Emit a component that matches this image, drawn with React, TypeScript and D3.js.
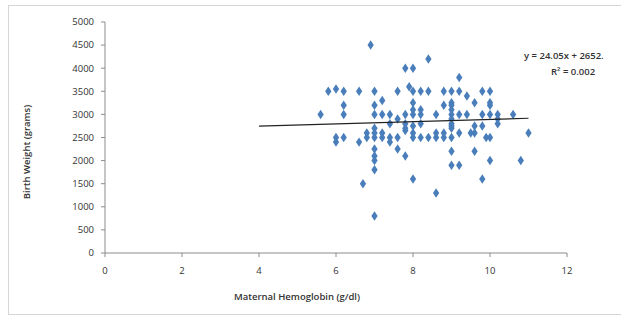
import * as d3 from "d3"
import React from "react"

// maternal hemoglobin (g/dl) and birth weight (grams)
const hb = [
  6.9, 8.4, 7.8, 8.0, 9.2, 7.9, 6.0,
  5.8, 6.2, 6.6, 7.0, 7.6, 8.0, 8.2, 8.4, 8.8, 9.0, 9.2, 9.8, 10.0,
  9.4, 7.2,
  8.0, 9.0, 9.6, 10.0,
  6.2, 7.0, 8.8, 9.0, 10.0,
  8.0, 8.2, 9.0,
  5.6, 6.2, 7.0, 7.2, 7.4, 7.8, 8.0, 8.2, 8.6, 9.0, 9.2, 9.4, 9.8, 10.0, 10.2, 10.6,
  7.6, 9.0, 10.2,
  7.4, 7.8, 8.2, 9.0, 10.2,
  8.0, 9.0, 9.6, 9.8,
  7.0, 7.8, 9.0,
  7.8,
  6.8, 7.0, 7.2, 8.0, 8.6, 8.8, 9.2, 9.5, 9.6, 11.0,
  6.0, 6.2, 6.8, 7.0, 7.2, 7.4, 7.6, 8.0, 8.2, 8.4, 8.6, 8.8, 9.0, 9.9, 10.0,
  6.0, 6.6, 7.4,
  7.0, 7.6,
  9.0, 9.6,
  7.0, 7.8,
  7.0, 10.0, 10.8,
  9.0, 9.2,
  7.0,
  8.0, 9.8,
  6.7,
  8.6,
  7.0
]
const bw = [
  4500, 4200, 4000, 4000, 3800, 3600, 3550,
  3500, 3500, 3500, 3500, 3500, 3500, 3500, 3500, 3500, 3500, 3500, 3500, 3500,
  3400, 3300,
  3250, 3250, 3250, 3250,
  3200, 3200, 3200, 3200, 3200,
  3100, 3100, 3100,
  3000, 3000, 3000, 3000, 3000, 3000, 3000, 3000, 3000, 3000, 3000, 3000, 3000, 3000, 3000, 3000,
  2900, 2900, 2900,
  2800, 2800, 2800, 2800, 2800,
  2750, 2750, 2750, 2750,
  2700, 2700, 2700,
  2650,
  2600, 2600, 2600, 2600, 2600, 2600, 2600, 2600, 2600, 2600,
  2500, 2500, 2500, 2500, 2500, 2500, 2500, 2500, 2500, 2500, 2500, 2500, 2500, 2500, 2500,
  2400, 2400, 2400,
  2250, 2250,
  2200, 2200,
  2100, 2100,
  2000, 2000, 2000,
  1900, 1900,
  1800,
  1600, 1600,
  1500,
  1300,
  800
]

const xTicks = [0, 2, 4, 6, 8, 10, 12]
const yTicks = [0, 500, 1000, 1500, 2000, 2500, 3000, 3500, 4000, 4500, 5000]

// linear trendline shown on the chart
const slope = 24.05
const intercept = 2652
const trendRange = [4, 11]
const eqText = "y = 24.05x + 2652."
const r2Text = "R² = 0.002"

const W = 621, H = 320
const font = "'Open Sans', 'Liberation Sans', sans-serif"

export default function App() {
  const x = d3.scaleLinear().domain([0, 12]).range([105, 567])
  const y = d3.scaleLinear().domain([0, 5000]).range([253, 22])
  const diamond = d3.symbol().type(d3.symbolDiamond).size(26)()
  const line = d3.line<number>().x(d => x(d)).y(d => y(slope * d + intercept))

  return (
    <svg width={W} height={H} style={{ position: "absolute", left: 0, top: 0, background: "#fff" }}>
      <rect x={8.5} y={5.5} width={W - 8} height={H - 11} fill="none" stroke="#d6d6d6" />
      {/* y axis */}
      <line x1={x(0)} x2={x(0)} y1={y(0)} y2={y(5000)} stroke="#8c8c8c" />
      {yTicks.map(t => (
        <g key={"y" + t}>
          <line x1={x(0) - 4} x2={x(0)} y1={y(t)} y2={y(t)} stroke="#8c8c8c" />
          <text x={94} y={y(t)} dy="0.35em" textAnchor="end" fontSize={9.5} fill="#333" fontFamily={font}>{t}</text>
        </g>
      ))}
      {/* x axis */}
      <line x1={x(0)} x2={x(12)} y1={y(0)} y2={y(0)} stroke="#8c8c8c" />
      {xTicks.map(t => (
        <g key={"x" + t}>
          <line x1={x(t)} x2={x(t)} y1={y(0)} y2={y(0) + 4} stroke="#8c8c8c" />
          <text x={x(t)} y={274} textAnchor="middle" fontSize={9.5} fill="#333" fontFamily={font}>{t}</text>
        </g>
      ))}
      <text x={297} y={300} textAnchor="middle" fontSize={9.5} fontWeight={600} fill="#333" fontFamily={font}>Maternal Hemoglobin  (g/dl)</text>
      <text transform={`translate(30,${152}) rotate(-90)`} textAnchor="middle" fontSize={9.5} fontWeight={600} fill="#333" fontFamily={font}>Birth Weight  (grams)</text>
      {/* points */}
      {hb.map((h, i) => (
        <path key={i} d={diamond!} transform={`translate(${x(h)},${y(bw[i])}) scale(1.15,1)`} fill="#4a7ebb" />
      ))}
      {/* trendline */}
      <path d={line(trendRange)!} fill="none" stroke="#222" strokeWidth={1.2} />
      <text x={524} y={59} textAnchor="start" fontSize={9.5} fontWeight={600} fill="#333" fontFamily={font}>{eqText}</text>
      <text x={573} y={75} textAnchor="middle" fontSize={9.5} fontWeight={600} fill="#333" fontFamily={font}>{r2Text}</text>
    </svg>
  )
}
